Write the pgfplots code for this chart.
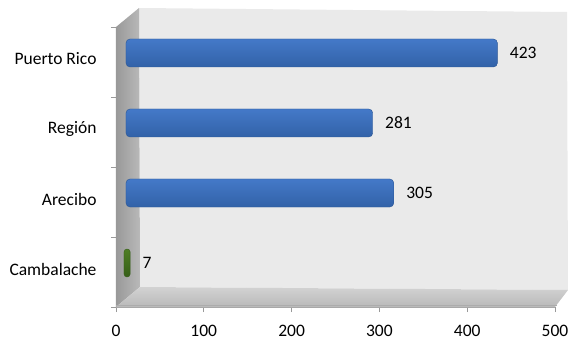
\documentclass[border=0pt]{standalone}
\usepackage{fontspec}
\setmainfont{Carlito}
\usepackage{pgfplots}
\pgfplotsset{compat=1.18}
\definecolor{wallback}{HTML}{EAEAEA}
\definecolor{bluetop}{HTML}{4479C8}
\definecolor{bluemid}{HTML}{70A7EE}
\definecolor{bluebot}{HTML}{3262A8}
\definecolor{blueedge}{HTML}{2A5594}
\definecolor{greentop}{HTML}{4E7E24}
\definecolor{greenmid}{HTML}{9ACD50}
\definecolor{greenbot}{HTML}{365E18}
\pgfplotsset{
    bluebar/.style={draw=blueedge, line width=0.4bp, top color=bluetop, middle color=bluemid, bottom color=bluebot, rounded corners=4bp, xshift=10bp},
}
\begin{document}
\begin{tikzpicture}
\begin{axis}[
    at={(0,0)}, anchor=south west,
    scale only axis, width=439bp, height=280bp,
    clip=false,
    font=\fontsize{17.5bp}{19bp}\selectfont,
    xmin=0, xmax=500, ymin=-0.5, ymax=3.5,
    axis x line*=bottom, axis y line*=left,
    axis line style={draw=gray!70, line width=0.6bp},
    tick align=outside,
    major tick length=5bp,
    tick style={draw=gray!80, line width=0.6bp},
    xtick={0,100,...,500},
    xticklabel style={yshift=-12bp, inner sep=1bp},
    /pgf/number format/assume math mode=true,
    ytick={-0.5,0.5,1.5,2.5,3.5},
    yticklabels={},
    extra y ticks={0,1,2,3},
    extra y tick labels={Cambalache, Arecibo, Región, Puerto Rico},
    extra y tick style={major tick length=0pt, yticklabel style={yshift=3bp, xshift=-16bp}},
    xbar, bar width=28bp, bar shift=9bp,
    nodes near coords,
    every node near coord/.append style={anchor=west, xshift=9bp, font=\fontsize{17.5bp}{19bp}\selectfont},
]
\fill[wallback] ([shift={(24bp,20bp)}]rel axis cs:0,0) -- ([shift={(13bp,17bp)}]rel axis cs:1,0)
    -- ([shift={(12bp,15bp)}]rel axis cs:1,1) -- ([shift={(23bp,19bp)}]rel axis cs:0,1) -- cycle;
\shade[left color=gray!80, right color=gray!55] (rel axis cs:0,0) -- (rel axis cs:0,1)
    -- ([shift={(23bp,19bp)}]rel axis cs:0,1) -- ([shift={(24bp,20bp)}]rel axis cs:0,0) -- cycle;
\shade[top color=gray!35, bottom color=gray!55] (rel axis cs:0,0) -- (rel axis cs:1,0)
    -- ([shift={(13bp,17bp)}]rel axis cs:1,0) -- ([shift={(24bp,20bp)}]rel axis cs:0,0) -- cycle;
\draw[gray!65, line width=0.8bp] ([yshift=2bp]rel axis cs:0,0) -- ([shift={(2bp,2bp)}]rel axis cs:1,0);
\addplot[bluebar] coordinates {(305,1)};
\addplot[bluebar] coordinates {(281,2)};
\addplot[bluebar] coordinates {(423,3)};
\addplot[draw=greenbot, line width=0.4bp, top color=greentop, middle color=greenmid, bottom color=greenbot, rounded corners=3bp, xshift=8bp]
    coordinates {(7,0)};
\end{axis}
\pgfresetboundingbox
\useasboundingbox (-116bp,-39bp) rectangle (453bp,307bp);
\end{tikzpicture}
\end{document}
